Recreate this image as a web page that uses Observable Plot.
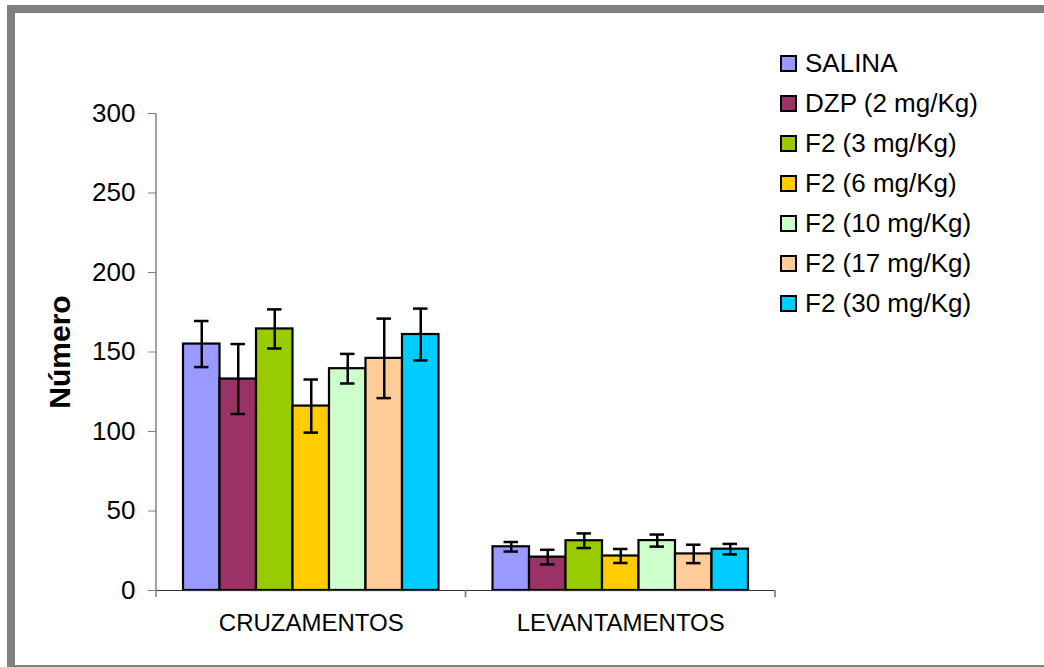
<!DOCTYPE html>
<html><head><meta charset="utf-8">
<script src="https://cdn.jsdelivr.net/npm/d3@7"></script>
<script src="https://cdn.jsdelivr.net/npm/@observablehq/plot@0.6"></script>
<style>
html,body{margin:0;padding:0;background:#fff;overflow:hidden;}
#wrap{position:relative;width:1044px;height:667px;font-family:"Liberation Sans",Arial,sans-serif;}
#frame{position:absolute;left:7px;top:5px;width:1100px;height:668px;box-sizing:border-box;border:8px solid #808080;z-index:2;pointer-events:none;}
#chart{position:absolute;left:0;top:0;}
#legend{position:absolute;left:780px;top:43px;z-index:3;}
.item{display:flex;align-items:center;height:40px;font-size:26px;color:#000;white-space:nowrap;}
.sw{width:13px;height:13px;border:2px solid #000;margin-right:8px;flex:none;}
svg g[aria-label="y-axis label"] text{font-weight:bold;font-size:30px;}
</style>
</head><body>
<div id="wrap"><div id="frame"></div><div id="chart"></div><div id="legend"></div></div>
<script>
const categories = ["CRUZAMENTOS", "LEVANTAMENTOS"];
const series = ["SALINA", "DZP (2 mg/Kg)", "F2 (3 mg/Kg)", "F2 (6 mg/Kg)", "F2 (10 mg/Kg)", "F2 (17 mg/Kg)", "F2 (30 mg/Kg)"];
const colors = ["#9999FF", "#993366", "#99CC00", "#FFCC00", "#CCFFCC", "#FFCC99", "#00CCFF"];
const cruzamentos = [155, 133, 164.5, 116, 139.5, 146, 161];
const cruzamentosErr = [14.5, 22, 12.3, 16.7, 9.3, 25, 16.3];
const levantamentos = [27.5, 21, 31.3, 21.7, 31.4, 23, 26];
const levantamentosErr = [3, 4.6, 4.6, 4.4, 3.8, 5.8, 3.3];
const yTicks = [0, 50, 100, 150, 200, 250, 300];

const values = [cruzamentos, levantamentos];
const errs = [cruzamentosErr, levantamentosErr];
const data = categories.flatMap((c, ci) => series.map((s, i) => ({cat: c, series: s, value: values[ci][i], err: errs[ci][i]})));

const plot = Plot.plot({
  width: 1044, height: 667,
  marginLeft: 156, marginRight: 269, marginTop: 113, marginBottom: 77,
  style: {background: "transparent", fontFamily: "'Liberation Sans', Arial, sans-serif", color: "#000"},
  fx: {domain: categories, padding: 0, label: null, round: false},
  x: {domain: series, paddingInner: 0, paddingOuter: 0.74, axis: null, round: false},
  y: {domain: [0, 300]},
  color: {domain: series, range: colors},
  marks: [
    Plot.axisY({ticks: yTicks, tickSize: 8, tickPadding: 13, fontSize: 26, stroke: "#808080", fill: "#000",
      label: "Número", labelAnchor: "center", labelArrow: "none", labelOffset: 108}),
    Plot.axisFx({anchor: "bottom", tickSize: 0, tickPadding: 23, fontSize: 24, label: null, fill: "#000"}),
    Plot.barY(data, {fx: "cat", x: "series", y: "value", fill: "series", stroke: "#000", strokeWidth: 2.2}),
    Plot.ruleX(data, {fx: "cat", x: "series", y1: d => d.value - d.err, y2: d => d.value + d.err, stroke: "#000", strokeWidth: 2.5}),
    Plot.tickY(data, {fx: "cat", x: "series", y: d => d.value + d.err, stroke: "#000", strokeWidth: 2.5, inset: 11}),
    Plot.tickY(data, {fx: "cat", x: "series", y: d => d.value - d.err, stroke: "#000", strokeWidth: 2.5, inset: 11}),
    Plot.ruleY([0], {stroke: "#333", strokeWidth: 1.2})
  ]
});
document.getElementById("chart").appendChild(plot);

// y axis line and category boundary ticks via the plot's own scales
const fx = plot.scale("fx"), y = plot.scale("y");
const svg = d3.select(plot);
const y0 = y.apply(0), yTop = y.apply(300);
const left = fx.apply(categories[0]);
svg.append("line").attr("x1", left).attr("x2", left).attr("y1", yTop).attr("y2", y0 + 7)
  .attr("stroke", "#808080").attr("stroke-width", 1.5);
const bounds = [fx.apply(categories[1]), fx.apply(categories[1]) + fx.bandwidth];
for (const b of bounds) {
  svg.append("line").attr("x1", b).attr("x2", b).attr("y1", y0).attr("y2", y0 + 7)
    .attr("stroke", "#808080").attr("stroke-width", 1.8);
}

const legend = d3.select("#legend");
series.forEach((s, i) => {
  const it = legend.append("div").attr("class", "item");
  it.append("div").attr("class", "sw").style("background", colors[i]);
  it.append("span").text(s);
});
</script>
</body></html>
